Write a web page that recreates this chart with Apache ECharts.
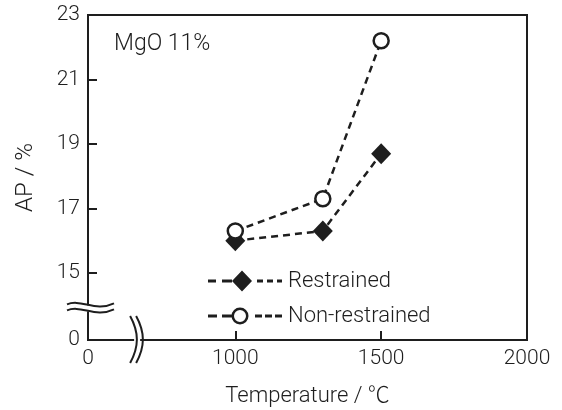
<!DOCTYPE html>
<html>
<head>
<meta charset="utf-8">
<script src="https://cdn.jsdelivr.net/npm/echarts@6/dist/echarts.min.js"></script>
<style>
  html, body { margin: 0; padding: 0; background: #fff; }
  #main { width: 562px; height: 410px; }
</style>
</head>
<body>
<div id="main"></div>
<script>
// data
var temperature = [1000, 1300, 1500];
var restrained = [16.0, 16.3, 18.7];
var nonRestrained = [16.3, 17.3, 22.2];

var xTicks = [1000, 1500, 2000];
var yTicks = [15, 17, 19, 21, 23];
// the axes are broken: the lowest value on each axis is shown as "0"
var xMin = 495, xMax = 2000;
var yMin = 12.92, yMax = 23;

var ink = '#1e1e1e';
var font = "Roboto, 'Noto Sans CJK JP', sans-serif";
var weight = 300;

// legend icons: dashed line with the marker in it
var diamondIcon = 'path://M0,9h8v3h-8z M14,9h10v3h-10z M24,10.5L34,0L44,10.5L34,21z ' +
  'M49,9h6v3h-6z M59,9h6v3h-6z M69,9h5v3h-5z';
var ringIcon = 'path://M0,7h9v3h-9z M14,7h10v3h-10z ' +
  'M23.5,8.5A8.5,8.5,0,1,1,40.5,8.5A8.5,8.5,0,1,1,23.5,8.5z ' +
  'M26,8.5A6,6,0,1,0,38,8.5A6,6,0,1,0,26,8.5z ' +
  'M47,7h7v3h-7z M57,7h7v3h-7z M67,7h7v3h-7z';

var myChart = echarts.init(document.getElementById('main'));

function pairs(xs, ys) {
  var out = [];
  for (var i = 0; i < xs.length; i++) {
    out.push([xs[i], ys[i]]);
  }
  return out;
}

var option = {
  animation: false,
  backgroundColor: '#fff',
  title: {
    text: 'MgO 11%',
    left: 114,
    top: 33,
    padding: 0,
    textStyle: { fontFamily: font, fontSize: 23, fontWeight: weight, color: ink }
  },
  legend: {
    orient: 'vertical',
    left: 208,
    top: 270,
    itemWidth: 74,
    itemHeight: 21,
    itemGap: 13,
    padding: 0,
    symbolKeepAspect: true,
    textStyle: { fontFamily: font, fontSize: 22, fontWeight: weight, color: ink, padding: [0, 0, 0, 1] },
    data: [
      { name: 'Restrained', icon: diamondIcon, itemStyle: { color: ink, borderWidth: 0 } },
      { name: 'Non-restrained', icon: ringIcon, itemStyle: { color: ink, borderWidth: 0 } }
    ]
  },
  grid: {
    left: 88,
    right: 35,
    top: 15,
    bottom: 70,
    outerBoundsMode: 'none',
    show: true,
    borderColor: ink,
    borderWidth: 2
  },
  xAxis: {
    type: 'value',
    min: xMin,
    max: xMax,
    name: 'Temperature / ℃',
    nameLocation: 'middle',
    nameGap: 45,
    nameTextStyle: { fontFamily: font, fontSize: 22, fontWeight: weight, color: ink },
    axisLine: { lineStyle: { color: ink, width: 2 } },
    axisTick: { inside: true, length: 9, lineStyle: { color: ink, width: 2 }, customValues: xTicks },
    axisLabel: {
      fontFamily: font, fontSize: 21, fontWeight: weight, color: ink, margin: 8,
      customValues: [xMin].concat(xTicks),
      formatter: function (v) { return v === xMin ? '0' : String(v); }
    },
    splitLine: { show: false }
  },
  yAxis: {
    type: 'value',
    min: yMin,
    max: yMax,
    name: 'AP / %',
    nameLocation: 'middle',
    nameGap: 50,
    nameTextStyle: { fontFamily: font, fontSize: 24, fontWeight: weight, color: ink },
    axisLine: { show: true, lineStyle: { color: ink, width: 2 } },
    axisTick: { show: true, inside: true, length: 9, lineStyle: { color: ink, width: 2 }, customValues: yTicks },
    axisLabel: {
      fontFamily: font, fontSize: 21, fontWeight: weight, color: ink, margin: 8,
      customValues: [yMin].concat(yTicks),
      formatter: function (v) { return v === yMin ? '0' : String(v); }
    },
    splitLine: { show: false }
  },
  series: [
    {
      name: 'Restrained',
      type: 'line',
      data: pairs(temperature, restrained),
      symbol: 'diamond',
      symbolSize: [20, 21],
      lineStyle: { color: ink, width: 2.5, type: [7, 5] },
      itemStyle: { color: ink, borderWidth: 0 },
      z: 3
    },
    {
      name: 'Non-restrained',
      type: 'line',
      data: pairs(temperature, nonRestrained),
      symbol: 'circle',
      symbolSize: 15,
      lineStyle: { color: ink, width: 2.5, type: [7, 5] },
      itemStyle: { color: '#fff', borderColor: ink, borderWidth: 2.5 },
      z: 4
    }
  ]
};

option && myChart.setOption(option);

// axis break marks
var yBreak = myChart.convertToPixel({ yAxisIndex: 0 }, 13.9);
var xBreak = myChart.convertToPixel({ xAxisIndex: 0 }, 660);
var yAxisX = myChart.convertToPixel({ xAxisIndex: 0 }, xMin);
var xAxisY = myChart.convertToPixel({ yAxisIndex: 0 }, yMin);

function hWave(x0, x1, y) {
  var w = x1 - x0;
  return {
    type: 'bezierCurve',
    shape: { x1: x0, y1: y - 1, cpx1: x0 + w * 0.3, cpy1: y - 7, cpx2: x0 + w * 0.6, cpy2: y + 7, x2: x1, y2: y - 2 },
    style: { stroke: ink, lineWidth: 2, fill: null },
    z: 101
  };
}
function vWave(y0, y1, x) {
  var h = y1 - y0;
  return {
    type: 'bezierCurve',
    shape: { x1: x - 3, y1: y0, cpx1: x + 6, cpy1: y0 + h * 0.35, cpx2: x + 6, cpy2: y0 + h * 0.65, x2: x - 3, y2: y1 },
    style: { stroke: ink, lineWidth: 2, fill: null },
    z: 101
  };
}

myChart.setOption({
  graphic: [
    { type: 'rect', shape: { x: yAxisX - 3, y: yBreak - 3, width: 6, height: 6 }, style: { fill: '#fff' }, z: 100 },
    hWave(yAxisX - 21, yAxisX + 26, yBreak - 3),
    hWave(yAxisX - 21, yAxisX + 26, yBreak + 3),
    { type: 'rect', shape: { x: xBreak - 2, y: xAxisY - 3, width: 6, height: 6 }, style: { fill: '#fff' }, z: 100 },
    vWave(xAxisY - 24, xAxisY + 23, xBreak - 3),
    vWave(xAxisY - 24, xAxisY + 23, xBreak + 3)
  ]
});
</script>
</body>
</html>
